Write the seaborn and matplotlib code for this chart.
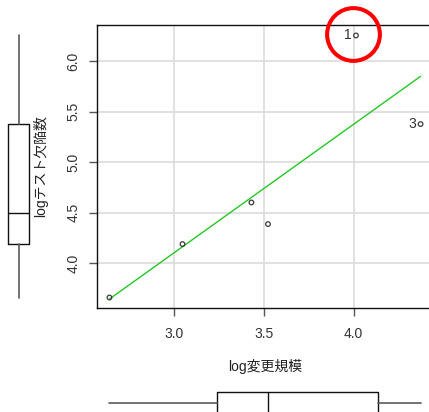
import numpy as np
import pandas as pd
import matplotlib
matplotlib.use("Agg")
import matplotlib.pyplot as plt
import matplotlib.transforms as mtransforms
import seaborn as sns

# log-scale change size and test defect counts per module (id 7 has no defect value)
point_ids = ["1", "2", "3", "4", "5", "6", "7"]
change_size = [4.013, 3.432, 4.372, 3.049, 2.643, 3.524, 4.259]
test_defects = [6.253, 4.600, 5.376, 4.188, 3.659, 4.386, np.nan]
labelled_ids = ["1", "3"]
highlight_id = "1"
x_ticks = [3.0, 3.5, 4.0]
y_ticks = [4.0, 4.5, 5.0, 5.5, 6.0]
x_label = "log変更規模"
y_label = "logテスト欠陥数"

df = pd.DataFrame({"id": point_ids, "x": change_size, "y": test_defects})
pairs = df.dropna()

sns.set_theme(style="white")
plt.rcParams["font.family"] = ["Liberation Sans", "Noto Sans CJK JP", "DejaVu Sans"]

W, H = 429, 412
fig = plt.figure(figsize=(W / 100, H / 100), dpi=100)
fig.patch.set_facecolor("white")


def fig_rect(left, top, right, bottom):
    return [left / W, (H - bottom) / H, (right - left) / W, (bottom - top) / H]


def padded(v):
    lo, hi = np.nanmin(v), np.nanmax(v)
    pad = 0.04 * (hi - lo)
    return lo - pad, hi + pad


def fivenum(v):
    v = np.sort(np.asarray(v, dtype=float)[~np.isnan(np.asarray(v, dtype=float))])
    n = len(v)
    n4 = np.floor((n + 3) / 2) / 2
    d = np.array([1, n4, (n + 1) / 2, n + 1 - n4, n]) - 1
    return 0.5 * (v[np.floor(d).astype(int)] + v[np.ceil(d).astype(int)])


def box_stats(v):
    lo, q1, med, q3, hi = fivenum(v)
    return dict(whislo=lo, q1=q1, med=med, q3=q3, whishi=hi, fliers=[])


xlim = padded(df["x"])
ylim = padded(pairs["y"])

# main scatter panel
ax = fig.add_axes(fig_rect(97, 25, 433, 308))
ax.set_xlim(*xlim)
ax.set_ylim(*ylim)
ax.set_xticks(x_ticks)
ax.set_yticks(y_ticks)
ax.set_xticklabels([f"{t:.1f}" for t in x_ticks])
ax.set_yticklabels([f"{t:.1f}" for t in y_ticks], rotation=90, va="center")
ax.grid(True, color="#dcdcdc", lw=1.2)
ax.set_axisbelow(True)
for side in ["top", "left", "bottom"]:
    ax.spines[side].set_color("#111111")
    ax.spines[side].set_linewidth(1.0)
ax.spines["right"].set_visible(False)
ax.tick_params(axis="both", direction="out", length=5.8, width=1.0, color="#555555",
               labelsize=10, labelcolor="#333333", bottom=True, left=True)
ax.tick_params(axis="x", pad=8)
ax.tick_params(axis="y", pad=6)

sns.regplot(data=pairs, x="x", y="y", ax=ax, scatter=False, ci=None, truncate=True,
            line_kws=dict(color="#22c822", lw=1.0))
sns.scatterplot(data=pairs, x="x", y="y", ax=ax, marker="o", s=11,
                edgecolor="#3a3a3a", linewidth=0.9, zorder=3)
ax.collections[-1].set_facecolor("none")

for _, row in pairs[pairs["id"].isin(labelled_ids)].iterrows():
    ax.annotate(row["id"], (row["x"], row["y"]), xytext=(-3.2, 0), textcoords="offset points",
                ha="right", va="center", fontsize=10, color="#333333")

hl = pairs[pairs["id"] == highlight_id].iloc[0]
ring_tf = mtransforms.offset_copy(ax.transData, fig=fig, x=-2.5, y=1.0, units="dots")
ax.plot([hl["x"]], [hl["y"]], marker="o", ms=38, mfc="none", mec="#ff0000", mew=2.9,
        transform=ring_tf, clip_on=False, zorder=5)

ax.set_xlabel(x_label, fontsize=10, color="#222222", va="center")
ax.set_ylabel(y_label, fontsize=10, color="#222222", va="center")
ax.xaxis.set_label_coords(0.5, (308 - 367) / 283)
ax.yaxis.set_label_coords((41 - 97) / 336, 0.5)

box_style = dict(showcaps=False, showfliers=False,
                 boxprops=dict(color="#111111", lw=1.0),
                 whiskerprops=dict(color="#5a5a5a", lw=1.2),
                 medianprops=dict(color="#111111", lw=1.0))

# marginal boxplot of the defect counts
axl = fig.add_axes(fig_rect(0, 25, 37, 308))
axl.bxp([box_stats(pairs["y"])], positions=[0], widths=21 / 37,
        orientation="vertical", **box_style)
axl.set_xlim(-0.5, 0.5)
axl.set_ylim(*ylim)
axl.axis("off")

# marginal boxplot of the change size
axb = fig.add_axes(fig_rect(97, 380, 433, 426))
axb.bxp([box_stats(df["x"])], positions=[0], widths=22 / 46,
        orientation="horizontal", **box_style)
axb.set_xlim(*xlim)
axb.set_ylim(-0.5, 0.5)
axb.axis("off")

fig.savefig("out.png", dpi=100, facecolor="white")
